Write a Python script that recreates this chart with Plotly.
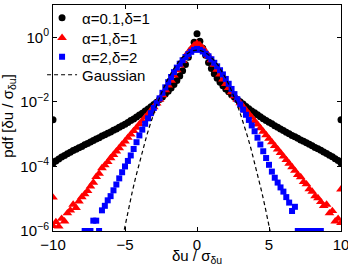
import numpy as np
import plotly.graph_objects as go

# bin centres (x = du / sigma_du)
x_bins = [round(-10 + 0.2 * i, 1) for i in range(101)]

# log10 of pdf
black_log = [
    -3.90, -3.83, -3.77, -3.71, -3.66, -3.61, -3.56, -3.51, -3.47, -3.42,
    -3.38, -3.33, -3.29, -3.24, -3.20, -3.15, -3.11, -3.06, -3.02, -2.97,
    -2.93, -2.88, -2.84, -2.79, -2.74, -2.69, -2.64, -2.58, -2.53, -2.47,
    -2.41, -2.35, -2.28, -2.22, -2.15, -2.08, -2.01, -1.93, -1.85, -1.76,
    -1.67, -1.57, -1.46, -1.34, -1.20, -1.04, -0.84, -0.62, -0.39, -0.15,
    0.11,
    -0.12, -0.34, -0.56, -0.78, -0.97, -1.13, -1.27, -1.39, -1.50, -1.60,
    -1.69, -1.78, -1.86, -1.93, -2.00, -2.07, -2.14, -2.21, -2.28, -2.34,
    -2.40, -2.46, -2.52, -2.58, -2.63, -2.68, -2.74, -2.79, -2.84, -2.89,
    -2.94, -2.99, -3.04, -3.08, -3.13, -3.18, -3.22, -3.27, -3.31, -3.36,
    -3.41, -3.45, -3.50, -3.55, -3.60, -3.65, -3.70, -3.76, -3.82, -3.89,
]
red_log = [
    -5.84, -5.72, -5.86, -5.62, -5.70, -5.45, -5.36, -5.18, -5.28, -5.08,
    -4.95, -4.86, -4.76, -4.62, -4.50, -4.32, -4.22, -4.05, -3.96, -3.86,
    -3.74, -3.64, -3.53, -3.43, -3.32, -3.22, -3.11, -3.01, -2.90, -2.80,
    -2.69, -2.59, -2.48, -2.38, -2.27, -2.16, -2.05, -1.93, -1.79, -1.64,
    -1.49, -1.34, -1.18, -1.02, -0.87, -0.73, -0.59, -0.46, -0.35, -0.25,
    -0.19,
    -0.24, -0.33, -0.45, -0.57, -0.71, -0.85, -1.00, -1.15, -1.30, -1.44,
    -1.57, -1.70, -1.82, -1.93, -2.04, -2.15, -2.26, -2.37, -2.48, -2.59,
    -2.70, -2.81, -2.92, -3.03, -3.14, -3.25, -3.36, -3.47, -3.58, -3.69,
    -3.80, -3.91, -4.02, -4.13, -4.26, -4.33, -4.48, -4.55, -4.70, -4.78,
    -4.92, -4.98, -5.10, -5.22, -5.18, -5.45, -5.38, -5.70, -5.62, -5.75,
]
blue_log = [
    None, None, None, None, None, None, None, None, None, None,
    None, -6.0, -6.0, -6.0, -5.68, -5.68, -6.0, -5.36, -5.22, -5.05,
    -4.92, -4.74, -4.56, -4.37, -4.18, -4.00, -3.83, -3.66, -3.46, -3.25,
    -3.04, -2.86, -2.68, -2.51, -2.35, -2.19, -2.04, -1.89, -1.72, -1.55,
    -1.39, -1.23, -1.08, -0.94, -0.82, -0.71, -0.61, -0.52, -0.45, -0.39,
    -0.36,
    -0.39, -0.44, -0.51, -0.59, -0.68, -0.79, -0.90, -1.02, -1.15, -1.29,
    -1.44, -1.60, -1.76, -1.92, -2.08, -2.24, -2.40, -2.56, -2.73, -2.91,
    -3.11, -3.32, -3.53, -3.74, -3.95, -4.16, -4.35, -4.50, -4.65, -4.78,
    -4.95, -5.12, -5.38, -5.25, -6.0, -6.0, -6.0, -6.0, -6.0, -6.0,
    -6.0, None, -6.0, None, None, None, None, None, None, None,
]
assert len(black_log) == len(red_log) == len(blue_log) == len(x_bins)

# accumulated edge values at x = +-10
edge_x = [-10, 10]
black_edge = [2.8e-3, 2.8e-3]
red_edge = [1.1e-5, 1.95e-5]

# Gaussian reference
gauss_x = [-5.25, -5.0, -4.75, -4.5, -4.25, -4.0, -3.75, -3.5, -3.25, -3.0,
           -2.75, -2.5, -2.25, -2.0, -1.75, -1.5, -1.25, -1.0, -0.75, -0.5,
           -0.25, 0.0, 0.25, 0.5, 0.75, 1.0, 1.25, 1.5, 1.75, 2.0, 2.25, 2.5,
           2.75, 3.0, 3.25, 3.5, 3.75, 4.0, 4.25, 4.5, 4.75, 5.0, 5.25]
gauss_half = [0.3989, 0.3867, 0.3521, 0.3011, 0.2420, 0.1826, 0.1295, 0.0863,
              0.0540, 0.0317, 0.0175, 0.00909, 0.00443, 0.00203, 8.73e-4,
              3.53e-4, 1.34e-4, 4.77e-5, 1.60e-5, 5.03e-6, 1.49e-6, 4.13e-7]
gauss_y = gauss_half[::-1] + gauss_half[1:]

labels = ["\u03b1=0.1,\u03b4=1", "\u03b1=1,\u03b4=1", "\u03b1=2,\u03b4=2", "Gaussian"]


def to_pdf(vals):
    return [np.nan if v is None else 10 ** v for v in vals]


fig = go.Figure()
fig.add_trace(go.Scatter(
    x=x_bins + edge_x, y=to_pdf(black_log) + black_edge, mode="markers",
    name=labels[0], legend="legend",
    marker=dict(symbol="circle", size=7, color="black")))
fig.add_trace(go.Scatter(
    x=x_bins + edge_x, y=to_pdf(red_log) + red_edge, mode="markers",
    name=labels[1], legend="legend2",
    marker=dict(symbol="triangle-up", size=8.5, color="#ff0000")))
fig.add_trace(go.Scatter(
    x=x_bins, y=to_pdf(blue_log), mode="markers",
    name=labels[2], legend="legend3",
    marker=dict(symbol="square", size=6, color="#0000ff")))
fig.add_trace(go.Scatter(
    x=gauss_x, y=gauss_y, mode="lines", name=labels[3], legend="legend4",
    line=dict(color="black", width=1.2, dash="4px,3px")))

font = dict(family="Liberation Sans, Arial, sans-serif", size=15, color="black")


def leg(ypix):
    return dict(x=-0.038, y=(231 - ypix) / 226, xanchor="left", yanchor="middle",
                bgcolor="rgba(0,0,0,0)", borderwidth=0, font=font,
                itemwidth=30, tracegroupgap=0)


fig.update_layout(
    width=348, height=267,
    margin=dict(l=53, r=7, t=5, b=36, autoexpand=False),
    paper_bgcolor="white", plot_bgcolor="white",
    font=font,
    showlegend=True,
    legend=leg(18), legend2=leg(38), legend3=leg(57), legend4=leg(75),
    xaxis=dict(range=[-10, 10], tickvals=[-10, -5, 0, 5, 10],
               ticktext=["\u221210", "\u22125", "0", "5", "10"],
               ticks="inside", ticklen=4, tickcolor="black",
               ticklabeloverflow="allow",
               showline=True, linecolor="black", linewidth=1, mirror="ticks",
               showgrid=False, zeroline=False, tickfont=font),
    yaxis=dict(type="log", range=[-6, 1],
               tickvals=[1e-6, 1e-4, 1e-2, 1],
               ticktext=["10<sup>\u22126</sup>", "10<sup>\u22124</sup>",
                         "10<sup>\u22122</sup>", "10<sup>0</sup>"],
               ticks="inside", ticklen=4, tickcolor="black",
               ticklabeloverflow="allow",
               showline=True, linecolor="black", linewidth=1, mirror="ticks",
               showgrid=False, zeroline=False, tickfont=font),
    annotations=[
        dict(text="\u03b4u / \u03c3<sub>\u03b4u</sub>", xref="paper", yref="paper",
             x=0.5, y=-0.112, xanchor="center", yanchor="middle",
             showarrow=False, font=font),
        dict(text="pdf [\u03b4u / \u03c3<sub>\u03b4u</sub>]", xref="paper", yref="paper",
             x=-0.153, y=0.51, xanchor="center", yanchor="middle", textangle=-90,
             showarrow=False, font=font),
    ],
)

fig.write_html("out.html")
